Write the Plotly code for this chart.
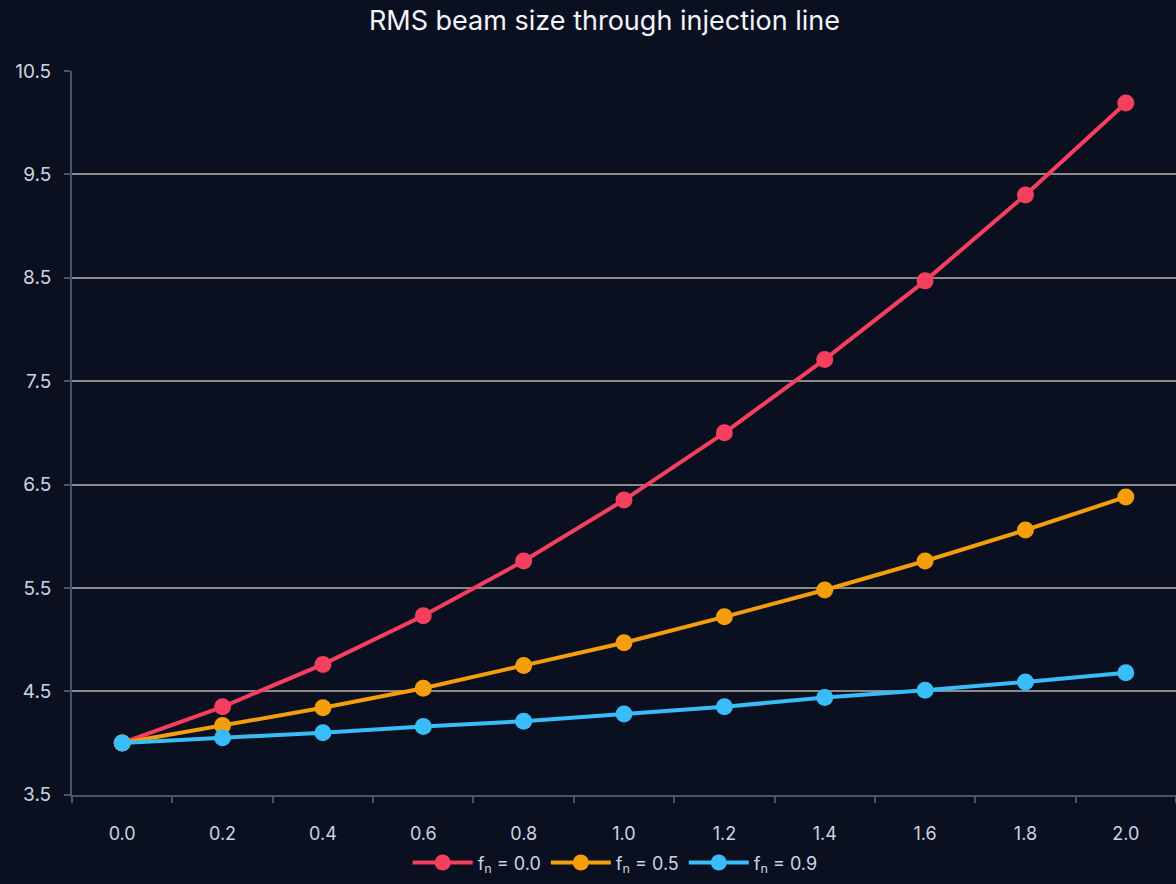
import plotly.graph_objects as go

x_labels = ["0.0", "0.2", "0.4", "0.6", "0.8", "1.0", "1.2", "1.4", "1.6", "1.8", "2.0"]
fn_00 = [4.00, 4.35, 4.76, 5.23, 5.76, 6.35, 7.00, 7.71, 8.47, 9.30, 10.19]
fn_05 = [4.00, 4.17, 4.34, 4.53, 4.75, 4.97, 5.22, 5.48, 5.76, 6.06, 6.38]
fn_09 = [4.00, 4.05, 4.10, 4.16, 4.21, 4.28, 4.35, 4.44, 4.51, 4.59, 4.68]
series_names = ["f<sub>n</sub> = 0.0", "f<sub>n</sub> = 0.5", "f<sub>n</sub> = 0.9"]
colors = ["#f43f5e", "#f59e0b", "#38bdf8"]
y_ticks = [3.5, 4.5, 5.5, 6.5, 7.5, 8.5, 9.5, 10.5]

fig = go.Figure()
for name, vals, col in zip(series_names, [fn_00, fn_05, fn_09], colors):
    fig.add_trace(go.Scatter(
        x=x_labels, y=vals, name=name, mode="lines+markers",
        line=dict(color=col, width=4),
        marker=dict(color=col, size=17),
    ))

bg = "#0b1020"
fig.update_layout(
    width=1176, height=884,
    paper_bgcolor=bg, plot_bgcolor=bg,
    font=dict(family="Inter, Roboto, sans-serif", color="#cbd5e1", size=18),
    title=dict(text="RMS beam size through injection line", x=0.514, xanchor="center",
               y=0.977, yanchor="middle", font=dict(size=27, color="#f1f5f9")),
    margin=dict(l=72, r=0, t=71, b=88),
    showlegend=True,
    legend=dict(orientation="h", x=0.492, xanchor="center",
                yref="container", y=0.024, yanchor="middle",
                font=dict(size=18, color="#cbd5e1"), bgcolor="rgba(0,0,0,0)",
                itemwidth=60, tracegroupgap=0),
    xaxis=dict(type="category", tickson="boundaries", range=[-0.5, 10.5],
               showgrid=False, showline=True, linecolor="#475569", linewidth=2,
               ticks="outside", ticklen=6, tickwidth=2, tickcolor="#475569",
               ticklabelstandoff=22,
               zeroline=False, tickfont=dict(size=18, color="#cbd5e1")),
    yaxis=dict(range=[3.5, 10.5], tickvals=y_ticks, ticktext=[f"{v:.1f}" for v in y_ticks],
               showgrid=True, gridcolor="#8a8a8a", gridwidth=2,
               showline=True, linecolor="#475569", linewidth=2,
               ticks="outside", ticklen=6, tickwidth=2, tickcolor="#475569",
               ticklabelstandoff=9,
               zeroline=False, tickfont=dict(size=19, color="#cbd5e1")),
)

fig.write_html("out.html", config={"displayModeBar": False},
               post_script="document.body.style.margin='0';document.body.style.overflow='hidden';")
